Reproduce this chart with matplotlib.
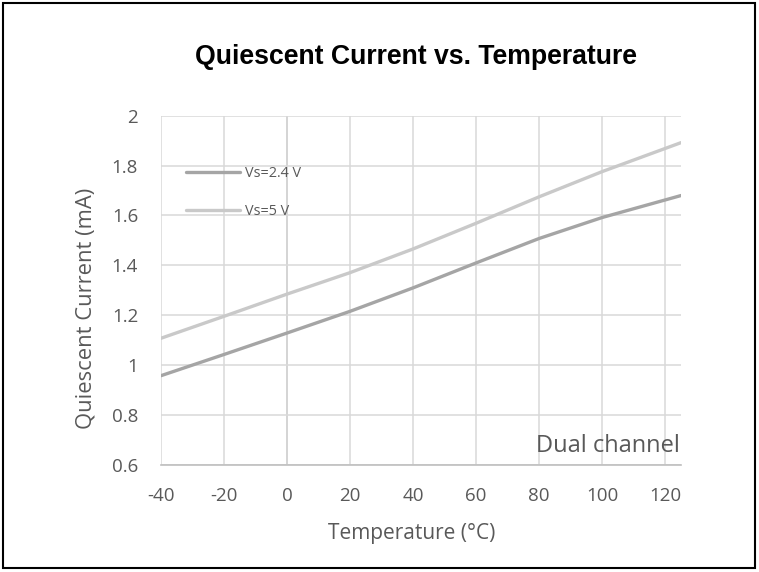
import matplotlib
matplotlib.use("Agg")
import matplotlib.pyplot as plt
from matplotlib.patches import Rectangle

plt.rcParams["axes.unicode_minus"] = False

temperature = [-40, -20, 0, 20, 40, 60, 80, 100, 125]
vs_2p4 = [0.958, 1.043, 1.129, 1.216, 1.31, 1.41, 1.508, 1.592, 1.68]
vs_5 = [1.108, 1.196, 1.285, 1.371, 1.466, 1.569, 1.675, 1.776, 1.892]
series_labels = ["Vs=2.4 V", "Vs=5 V"]
x_ticks = [-40, -20, 0, 20, 40, 60, 80, 100, 120]
y_ticks = [0.6, 0.8, 1.0, 1.2, 1.4, 1.6, 1.8, 2.0]
y_tick_labels = ["0.6", "0.8", "1", "1.2", "1.4", "1.6", "1.8", "2"]

W, H = 759, 572
fig = plt.figure(figsize=(W / 100, H / 100), dpi=100)
fig.patch.set_facecolor("white")
fig.patches.append(Rectangle((3 / W, 4 / H), 752 / W, 565 / H, transform=fig.transFigure,
                             fill=False, edgecolor="black", linewidth=1.5))

ax = fig.add_axes([161 / W, 1 - 465 / H, (681 - 161) / W, (465 - 115.7) / H])
font = "Open Sans"
grey_txt = "#595959"
c_dark = "#a5a5a5"
c_light = "#c9c9c9"

ax.plot(temperature, vs_2p4, color=c_dark, lw=2.4, solid_capstyle="round", label=series_labels[0], zorder=3)
ax.plot(temperature, vs_5, color=c_light, lw=2.4, solid_capstyle="round", label=series_labels[1], zorder=3)

ax.set_xlim(-40, 125)
ax.set_ylim(0.6, 2.0)
ax.set_xticks(x_ticks)
ax.set_yticks(y_ticks)
ax.set_yticklabels(y_tick_labels)
ax.grid(True, color="#d9d9d9", lw=1.1)
ax.axvline(0, color="#bfbfbf", lw=1.2, zorder=1)
for s in ["top", "right", "left"]:
    ax.spines[s].set_visible(False)
ax.spines["bottom"].set_color("#bfbfbf")
ax.spines["bottom"].set_linewidth(1.2)
ax.tick_params(length=0, labelsize=13.5, colors=grey_txt)
ax.tick_params(axis="x", pad=15.5)
ax.tick_params(axis="y", pad=16.5)
for lab in ax.get_xticklabels() + ax.get_yticklabels():
    lab.set_fontfamily(font)

fig.text(411.5 / W, 1 - 533 / H, "Temperature (°C)", ha="center", va="center",
         fontsize=15, color=grey_txt, fontfamily=font)
fig.text(86 / W, 1 - 308 / H, "Quiescent Current (mA)", ha="center", va="center", rotation=90,
         fontsize=15.8, color=grey_txt, fontfamily=font)

leg = ax.legend(loc="upper left", bbox_to_anchor=(0.024, 0.892), frameon=False, handlelength=3.7,
                handletextpad=0.35, labelspacing=1.55, prop={"family": font, "size": 10.4})
for t in leg.get_texts():
    t.set_color(grey_txt)

ax.text(0.998, 0.037, "Dual channel", transform=ax.transAxes, ha="right", va="baseline",
        fontsize=17, color=grey_txt, fontfamily=font)

fig.text(416 / W, 1 - 57 / H, "Quiescent Current vs. Temperature", ha="center", va="center",
         fontsize=19.2, fontweight="bold", fontfamily="Liberation Sans", color="black")

fig.savefig("out.png", dpi=100)
